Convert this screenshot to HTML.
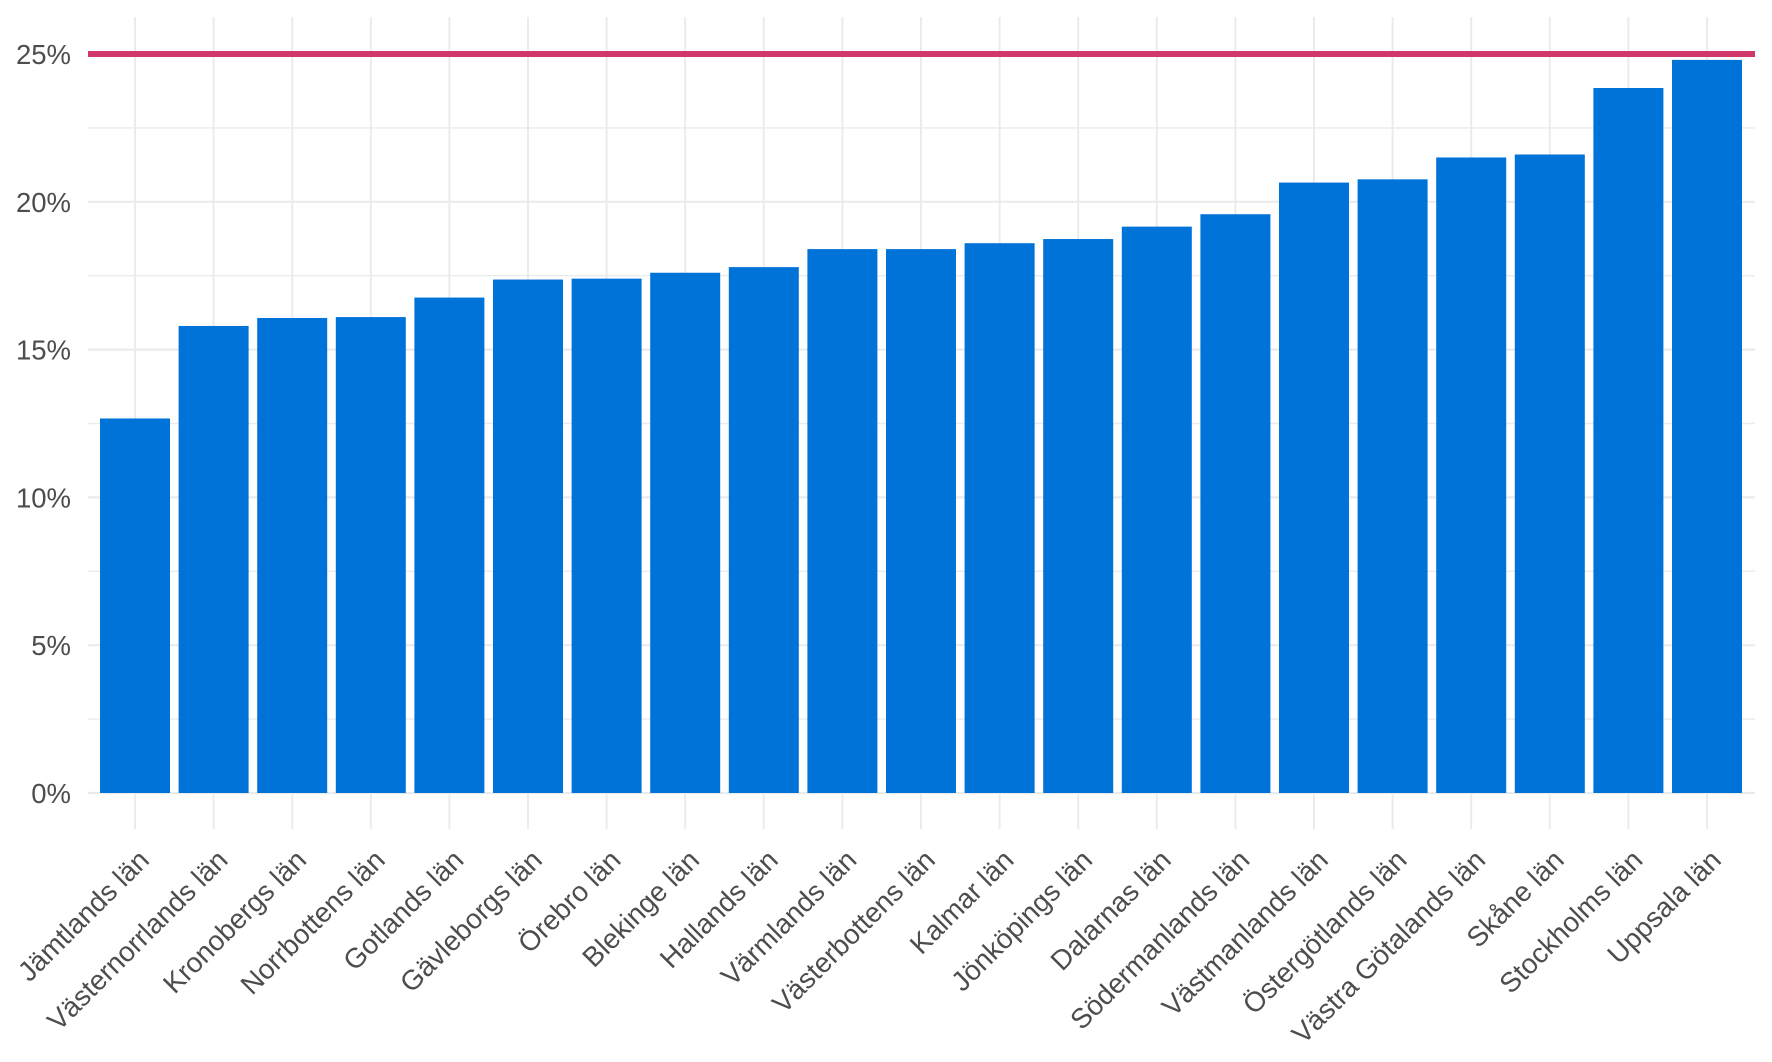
<!DOCTYPE html>
<html><head><meta charset="utf-8"><style>body{margin:0;background:#fff}svg{display:block}</style></head><body>
<svg width="1772" height="1062" xmlns="http://www.w3.org/2000/svg" font-family="Liberation Sans, Arial, sans-serif">
<g id="grid" stroke="#ebebeb" stroke-width="2"></g>
<g id="bars" fill="#0073d9"></g>
<line x1="88" x2="1755" y1="54" y2="54" stroke="#d0376a" stroke-width="6"/>
<g id="ylab" fill="#4d4d4d" font-size="27.5" text-anchor="end"></g>
<g id="xlab" fill="#4d4d4d" font-size="27.8" text-anchor="end"></g>
<script>
var ns="http://www.w3.org/2000/svg";
function el(p,t,a,txt){var e=document.createElementNS(ns,t);for(var k in a)e.setAttribute(k,a[k]);if(txt)e.textContent=txt;document.getElementById(p).appendChild(e);}
var y0=793,s=29.56;
function Y(v){return y0-v*s;}
for(var v=0;v<=25;v+=2.5){el("grid","line",{x1:88,x2:1755,y1:Y(v),y2:Y(v),"stroke-width":v%5==0?2.2:1.4});}
var names=["Jämtlands län","Västernorrlands län","Kronobergs län","Norrbottens län","Gotlands län","Gävleborgs län","Örebro län","Blekinge län","Hallands län","Värmlands län","Västerbottens län","Kalmar län","Jönköpings län","Dalarnas län","Södermanlands län","Västmanlands län","Östergötlands län","Västra Götalands län","Skåne län","Stockholms län","Uppsala län"];
var vals=[12.67,15.8,16.07,16.1,16.76,17.37,17.4,17.6,17.79,18.4,18.4,18.6,18.74,19.16,19.58,20.65,20.76,21.5,21.6,23.85,24.8];
for(var i=0;i<21;i++){var c=135+78.6*i;
el("grid","line",{x1:c,x2:c,y1:17,y2:829});
el("bars","rect",{x:c-35,y:Y(vals[i]),width:70,height:y0-Y(vals[i])});
var ax=c+1,ay=847;
el("xlab","text",{x:ax,y:ay,dy:"0.75em",transform:"rotate(-45 "+ax+" "+ay+")"},names[i]);}
for(var v=0;v<=25;v+=5){el("ylab","text",{x:71,y:Y(v)+10},v+"%");}
</script>
</svg>
</body></html>
